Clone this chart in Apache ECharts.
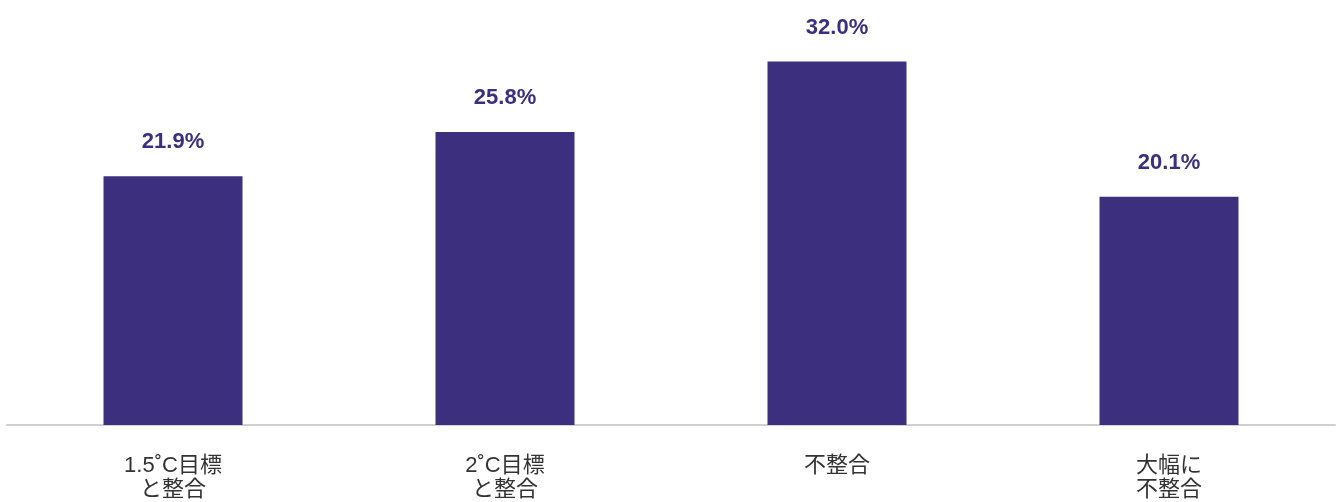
<!DOCTYPE html>
<html><head><meta charset="utf-8">
<script src="https://cdn.jsdelivr.net/npm/echarts@6/dist/echarts.min.js"></script>
<style>html,body{margin:0;padding:0;background:#fff}#c{width:1342px;height:502px}</style>
</head><body><div id="c"></div>
<script>
const categories = ['1.5˚C目標\nと整合', '2˚C目標\nと整合', '不整合', '大幅に\n不整合'];
const values = [21.9, 25.8, 32.0, 20.1];
const chart = echarts.init(document.getElementById('c'));
chart.setOption({
  animation: false,
  grid: {left: 7, right: 7, top: 27.5, bottom: 73, containLabel: false},
  xAxis: {
    type: 'category', data: categories,
    axisLine: {lineStyle: {color: '#d0d0d0', width: 2}},
    axisTick: {show: false},
    axisLabel: {color: '#333', fontSize: 22, lineHeight: 24, margin: 29,
      fontFamily: '"Liberation Sans", "Noto Sans CJK JP", sans-serif'}
  },
  yAxis: {type: 'value', min: 0, max: 35, show: false, splitLine: {show: false}},
  series: [{
    type: 'bar', data: values, barWidth: 139,
    itemStyle: {color: '#3c2f7e'},
    label: {show: true, position: 'top', distance: 23, color: '#3c2f7e',
      fontSize: 22, fontWeight: 'bold', fontFamily: '"Liberation Sans", Arial, sans-serif',
      formatter: p => p.value.toFixed(1) + '%'}
  }]
});
</script></body></html>
